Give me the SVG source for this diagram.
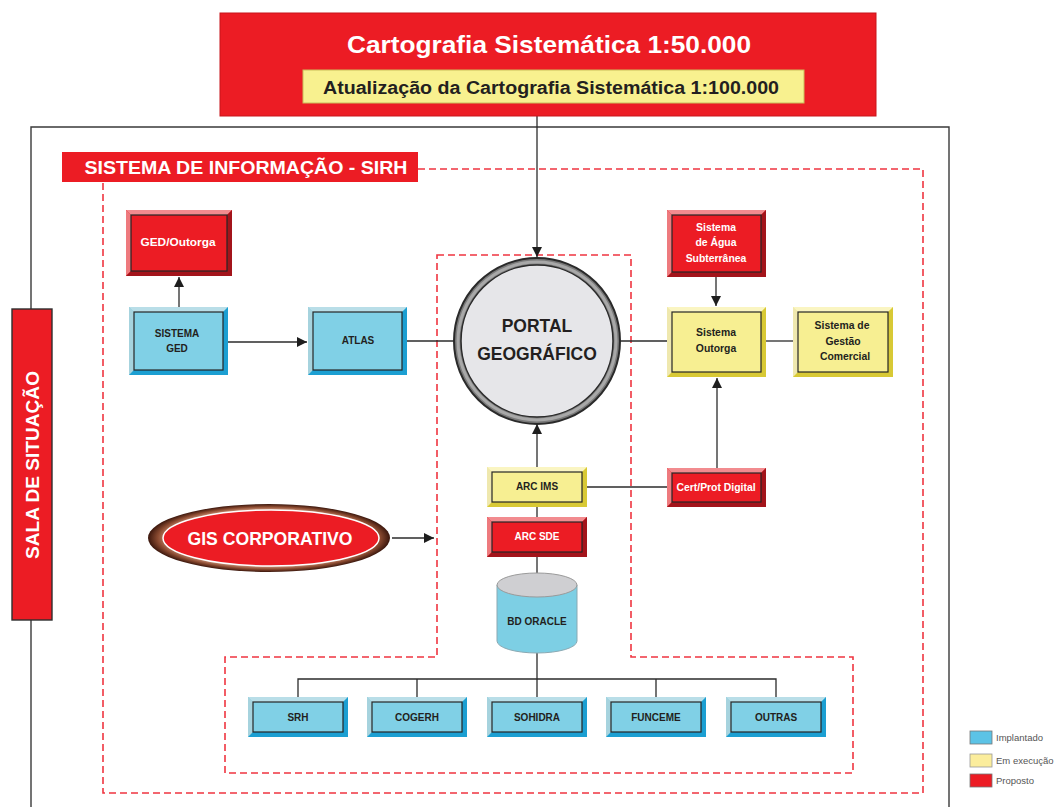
<svg xmlns="http://www.w3.org/2000/svg" width="1058" height="807" viewBox="0 0 1058 807">
<defs>
<marker id="arr" viewBox="0 0 10 10" refX="10" refY="5" markerWidth="10" markerHeight="10" markerUnits="userSpaceOnUse" orient="auto">
<path d="M0,0 L10,5 L0,10 Z" fill="#1e1e1e"/>
</marker>
<radialGradient id="gisg" cx="0.5" cy="0.5" r="0.5">
<stop offset="0.82" stop-color="#d49a80"/>
<stop offset="0.92" stop-color="#8a4a30"/>
<stop offset="1" stop-color="#3a160c"/>
</radialGradient>
<style>
text{font-family:"Liberation Sans",Arial,sans-serif;font-weight:bold;text-anchor:middle}
.dk{fill:#231f20}
.wt{fill:#ffffff}
.sm{font-size:10px}
.xs{font-size:10.4px}
.in{stroke:#262626;stroke-width:1.2}
.blue .face,.blue .in{fill:#80d0e6}
.blue .bt{fill:#b9dee8}
.blue .bl{fill:#a6d3de}
.blue .bd{fill:#1c9fd2}
.yel .face,.yel .in{fill:#f7ef92}
.yel .bt{fill:#faf5c2}
.yel .bl{fill:#efe8ae}
.yel .bd{fill:#d8c935}
.red .face,.red .in{fill:#ec1c24}
.red .bt{fill:#f28b8f}
.red .bl{fill:#ee7a7e}
.red .bd{fill:#a3141b}
.ln{stroke:#2b2b2b;stroke-width:1.3;fill:none}
.dash{stroke:#ef3540;stroke-width:1.6;fill:none;stroke-dasharray:7 4}
.leg{font-weight:normal;font-size:9.5px;fill:#555;text-anchor:start}
</style>
</defs>
<rect width="1058" height="807" fill="#ffffff"/>

<!-- outer frame -->
<path d="M31,807 L31,127 L949,127 L949,807" fill="none" stroke="#3a3a3a" stroke-width="1.4"/>

<!-- dashed regions -->
<g id="regions">
<path class="dash" d="M418,169 L923,169 L923,793 L103,793 L103,182"/>
<path class="dash" d="M437,255 L631,255 L631,657 L853,657 L853,773 L225,773 L225,657 L437,657 Z"/>
</g>

<!-- connectors -->
<g id="connectors">
<line class="ln" x1="537" y1="116" x2="537" y2="257" marker-end="url(#arr)"/>
<line class="ln" x1="179" y1="307" x2="179" y2="277" marker-end="url(#arr)"/>
<line class="ln" x1="228" y1="342" x2="307" y2="342" marker-end="url(#arr)"/>
<line class="ln" x1="407" y1="341" x2="455" y2="341"/>
<line class="ln" x1="620" y1="341" x2="667" y2="341"/>
<line class="ln" x1="766" y1="341" x2="793" y2="341"/>
<line class="ln" x1="716" y1="277" x2="716" y2="306" marker-end="url(#arr)"/>
<line class="ln" x1="717" y1="468" x2="717" y2="378" marker-end="url(#arr)"/>
<line class="ln" x1="667" y1="487" x2="587" y2="487"/>
<line class="ln" x1="537" y1="467" x2="537" y2="424" marker-end="url(#arr)"/>
<line class="ln" x1="537" y1="507" x2="537" y2="517"/>
<line class="ln" x1="537" y1="557" x2="537" y2="575"/>
<line class="ln" x1="392" y1="538" x2="434" y2="538" marker-end="url(#arr)"/>
<line class="ln" x1="537" y1="653" x2="537" y2="697"/>
<path class="ln" d="M298,697 L298,679 L776,679 L776,697 M417,679 L417,697 M656,679 L656,697"/>
</g>

<!-- top title -->
<g id="n-cartografia">
<rect x="220" y="13" width="656" height="103" fill="#ec1c24" stroke="#c8141a" stroke-width="1"/>
<text class="wt" x="549" y="53" font-size="24" textLength="404" lengthAdjust="spacingAndGlyphs">Cartografia Sistemática 1:50.000</text>
<rect x="303" y="70" width="501" height="33" fill="#f8f18f" stroke="#c9bd5a" stroke-width="1"/>
<text class="dk" x="551" y="94" font-size="18" textLength="456" lengthAdjust="spacingAndGlyphs">Atualização da Cartografia Sistemática 1:100.000</text>
</g>

<!-- SIRH label -->
<g id="n-sirh">
<rect x="62" y="152" width="356" height="30" fill="#ec1c24"/>
<text class="wt" x="246" y="174" font-size="19" textLength="323" lengthAdjust="spacingAndGlyphs">SISTEMA DE INFORMAÇÃO - SIRH</text>
</g>

<!-- Sala de situacao -->
<g id="n-sala">
<rect x="12" y="309" width="40" height="311" fill="#ec1c24" stroke="#2e2e2e" stroke-width="1.4"/>
<text class="wt" font-size="19" transform="translate(39,465) rotate(-90)" textLength="188" lengthAdjust="spacingAndGlyphs">SALA DE SITUAÇÃO</text>
</g>

<g id="n-ged-outorga" class="red">
<rect class="face" x="126" y="210" width="106" height="66"/>
<polygon class="bt" points="126,210 232,210 227,215 131,215"/>
<polygon class="bl" points="126,210 131,215 131,271 126,276"/>
<polygon class="bd" points="232,210 232,276 126,276 131,271 227,271 227,215"/>
<rect class="in" x="131" y="215" width="96" height="56"/>
<text class="wt" font-size="11" x="178" y="246" textLength="75" lengthAdjust="spacingAndGlyphs">GED/Outorga</text>
</g>

<g id="n-sistema-ged" class="blue">
<rect class="face" x="129" y="307" width="99" height="68"/>
<polygon class="bt" points="129,307 228,307 223,312 134,312"/>
<polygon class="bl" points="129,307 134,312 134,370 129,375"/>
<polygon class="bd" points="228,307 228,375 129,375 134,370 223,370 223,312"/>
<rect class="in" x="134" y="312" width="89" height="58"/>
<text class="dk sm" x="177" y="337">SISTEMA</text>
<text class="dk sm" x="177" y="352">GED</text>
</g>

<g id="n-atlas" class="blue">
<rect class="face" x="308" y="307" width="99" height="68"/>
<polygon class="bt" points="308,307 407,307 402,312 313,312"/>
<polygon class="bl" points="308,307 313,312 313,370 308,375"/>
<polygon class="bd" points="407,307 407,375 308,375 313,370 402,370 402,312"/>
<rect class="in" x="313" y="312" width="89" height="58"/>
<text class="dk sm" x="358" y="344">ATLAS</text>
</g>

<g id="n-portal">
<circle cx="537" cy="341" r="83" fill="#7a7a7a" stroke="#2a2a2a" stroke-width="2"/>
<circle cx="537" cy="341" r="79" fill="none" stroke="#a8a8a8" stroke-width="3"/>
<circle cx="537" cy="341" r="76" fill="#e6e6e9" stroke="#2a2a2a" stroke-width="1.5"/>
<text class="dk" x="537" y="332" font-size="17.5">PORTAL</text>
<text class="dk" x="537" y="360" font-size="17.5">GEOGRÁFICO</text>
</g>

<g id="n-agua" class="red">
<rect class="face" x="667" y="210" width="99" height="67"/>
<polygon class="bt" points="667,210 766,210 761,215 672,215"/>
<polygon class="bl" points="667,210 672,215 672,272 667,277"/>
<polygon class="bd" points="766,210 766,277 667,277 672,272 761,272 761,215"/>
<rect class="in" x="672" y="215" width="89" height="57"/>
<text class="wt xs" x="716" y="231">Sistema</text>
<text class="wt xs" x="716" y="246">de Água</text>
<text class="wt xs" x="716" y="262">Subterrânea</text>
</g>

<g id="n-outorga" class="yel">
<rect class="face" x="667" y="307" width="99" height="70"/>
<polygon class="bt" points="667,307 766,307 761,312 672,312"/>
<polygon class="bl" points="667,307 672,312 672,372 667,377"/>
<polygon class="bd" points="766,307 766,377 667,377 672,372 761,372 761,312"/>
<rect class="in" x="672" y="312" width="89" height="60"/>
<text class="dk xs" x="716" y="336">Sistema</text>
<text class="dk xs" x="716" y="352">Outorga</text>
</g>

<g id="n-gestao" class="yel">
<rect class="face" x="793" y="307" width="100" height="70"/>
<polygon class="bt" points="793,307 893,307 888,312 798,312"/>
<polygon class="bl" points="793,307 798,312 798,372 793,377"/>
<polygon class="bd" points="893,307 893,377 793,377 798,372 888,372 888,312"/>
<rect class="in" x="798" y="312" width="90" height="60"/>
<text class="dk xs" x="842" y="329">Sistema de</text>
<text class="dk xs" x="843" y="345">Gestão</text>
<text class="dk xs" x="845" y="360">Comercial</text>
</g>

<g id="n-cert" class="red">
<rect class="face" x="667" y="468" width="99" height="39"/>
<polygon class="bt" points="667,468 766,468 761,473 672,473"/>
<polygon class="bl" points="667,468 672,473 672,502 667,507"/>
<polygon class="bd" points="766,468 766,507 667,507 672,502 761,502 761,473"/>
<rect class="in" x="672" y="473" width="89" height="29"/>
<text class="wt xs" x="716" y="491">Cert/Prot Digital</text>
</g>

<g id="n-arcims" class="yel">
<rect class="face" x="487" y="467" width="100" height="40"/>
<polygon class="bt" points="487,467 587,467 582,472 492,472"/>
<polygon class="bl" points="487,467 492,472 492,502 487,507"/>
<polygon class="bd" points="587,467 587,507 487,507 492,502 582,502 582,472"/>
<rect class="in" x="492" y="472" width="90" height="30"/>
<text class="dk sm" x="537" y="490">ARC IMS</text>
</g>

<g id="n-arcsde" class="red">
<rect class="face" x="487" y="517" width="100" height="40"/>
<polygon class="bt" points="487,517 587,517 582,522 492,522"/>
<polygon class="bl" points="487,517 492,522 492,552 487,557"/>
<polygon class="bd" points="587,517 587,557 487,557 492,552 582,552 582,522"/>
<rect class="in" x="492" y="522" width="90" height="30"/>
<text class="wt sm" x="537" y="540">ARC SDE</text>
</g>

<g id="n-oracle">
<path d="M497,585 L497,641 A40,12 0 0 0 577,641 L577,585 Z" fill="#7dcfe4" stroke="#8aa9b3" stroke-width="1"/>
<ellipse cx="537" cy="585" rx="40" ry="12" fill="#cfcfd2" stroke="#9a9a9a" stroke-width="1"/>
<text class="dk sm" x="537" y="625">BD ORACLE</text>
</g>

<g id="n-gis">
<ellipse cx="269" cy="538" rx="121" ry="34" fill="url(#gisg)"/>
<ellipse cx="271" cy="538" rx="108" ry="28" fill="#ec1c24" stroke="#ffffff" stroke-width="1.5"/>
<text class="wt" x="270" y="545" font-size="17.5" textLength="165" lengthAdjust="spacingAndGlyphs">GIS CORPORATIVO</text>
</g>

<g id="n-srh" class="blue">
<rect class="face" x="248" y="697" width="100" height="40"/>
<polygon class="bt" points="248,697 348,697 343,702 253,702"/>
<polygon class="bl" points="248,697 253,702 253,732 248,737"/>
<polygon class="bd" points="348,697 348,737 248,737 253,732 343,732 343,702"/>
<rect class="in" x="253" y="702" width="90" height="30"/>
<text class="dk sm" x="298" y="721">SRH</text>
</g>

<g id="n-cogerh" class="blue">
<rect class="face" x="367" y="697" width="100" height="40"/>
<polygon class="bt" points="367,697 467,697 462,702 372,702"/>
<polygon class="bl" points="367,697 372,702 372,732 367,737"/>
<polygon class="bd" points="467,697 467,737 367,737 372,732 462,732 462,702"/>
<rect class="in" x="372" y="702" width="90" height="30"/>
<text class="dk sm" x="417" y="721">COGERH</text>
</g>

<g id="n-sohidra" class="blue">
<rect class="face" x="487" y="697" width="100" height="40"/>
<polygon class="bt" points="487,697 587,697 582,702 492,702"/>
<polygon class="bl" points="487,697 492,702 492,732 487,737"/>
<polygon class="bd" points="587,697 587,737 487,737 492,732 582,732 582,702"/>
<rect class="in" x="492" y="702" width="90" height="30"/>
<text class="dk sm" x="537" y="721">SOHIDRA</text>
</g>

<g id="n-funceme" class="blue">
<rect class="face" x="606" y="697" width="100" height="40"/>
<polygon class="bt" points="606,697 706,697 701,702 611,702"/>
<polygon class="bl" points="606,697 611,702 611,732 606,737"/>
<polygon class="bd" points="706,697 706,737 606,737 611,732 701,732 701,702"/>
<rect class="in" x="611" y="702" width="90" height="30"/>
<text class="dk sm" x="656" y="721">FUNCEME</text>
</g>

<g id="n-outras" class="blue">
<rect class="face" x="726" y="697" width="100" height="40"/>
<polygon class="bt" points="726,697 826,697 821,702 731,702"/>
<polygon class="bl" points="726,697 731,702 731,732 726,737"/>
<polygon class="bd" points="826,697 826,737 726,737 731,732 821,732 821,702"/>
<rect class="in" x="731" y="702" width="90" height="30"/>
<text class="dk sm" x="776" y="721">OUTRAS</text>
</g>

<g id="legend">
<rect x="970" y="731" width="22" height="13" fill="#5cc3e6" stroke="#777" stroke-width="0.8"/>
<text class="leg" x="996" y="741">Implantado</text>
<rect x="970" y="754" width="22" height="13" fill="#fbed9c" stroke="#999" stroke-width="0.8"/>
<text class="leg" x="996" y="764">Em execução</text>
<rect x="970" y="774" width="22" height="13" fill="#ec1c24" stroke="#777" stroke-width="0.8"/>
<text class="leg" x="996" y="784">Proposto</text>
</g>
</svg>
